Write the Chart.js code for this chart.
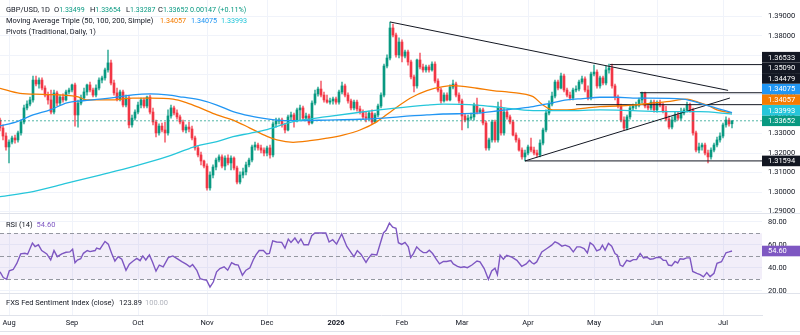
<!DOCTYPE html>
<html>
<head>
<meta charset="utf-8">
<script src="https://cdn.jsdelivr.net/npm/chart.js@4.4.1/dist/chart.umd.min.js"></script>
<style>
  body { margin: 0; background: #fff; width: 800px; height: 335px; overflow: hidden; position: relative; }
  canvas { position: absolute; left: 0; }
  #priceCanvas { top: 0; }
  #rsiCanvas { top: 214px; }
  #fxsCanvas { top: 294px; }
</style>
</head>
<body>
<canvas id="priceCanvas" width="800" height="214"></canvas>
<canvas id="rsiCanvas" width="800" height="80"></canvas>
<canvas id="fxsCanvas" width="800" height="41"></canvas>
<script>
// x positions are bar indexes (daily bars, weekdays only)
const monthTicks = [3, 24, 46, 69, 89, 112, 134, 154, 176, 198, 219, 241];
const monthLabels = ['Aug', 'Sep', 'Oct', 'Nov', 'Dec', '2026', 'Feb', 'Mar', 'Apr', 'May', 'Jun', 'Jul'];
const priceTicks = [1.29, 1.30, 1.31, 1.32, 1.33, 1.34, 1.35, 1.36, 1.37, 1.38, 1.39];
const rsiTicks = [20, 40, 60, 80];

// GBP/USD daily candles
const opens = [
  1.3369,1.3328,1.3287,1.3231,1.3256,1.3277,1.3267,1.3303,1.3359,1.3431,
  1.3451,1.3472,1.3574,1.3554,1.3574,1.3533,1.3497,1.3472,1.3410,1.3508,
  1.3456,1.3487,1.3472,1.3513,1.3523,1.3549,1.3395,1.3456,1.3482,1.3513,
  1.3549,1.3523,1.3497,1.3533,1.3574,1.3585,1.3626,1.3662,1.3559,1.3508,
  1.3477,1.3513,1.3446,1.3482,1.3344,1.3379,1.3410,1.3446,1.3472,1.3441,
  1.3487,1.3410,1.3359,1.3303,1.3338,1.3318,1.3303,1.3390,1.3431,1.3405,
  1.3385,1.3359,1.3318,1.3333,1.3323,1.3277,1.3226,1.3190,1.3159,1.3133,
  1.3021,1.3087,1.3128,1.3164,1.3180,1.3133,1.3174,1.3149,1.3174,1.3123,
  1.3051,1.3087,1.3103,1.3139,1.3164,1.3231,1.3241,1.3226,1.3215,1.3200,
  1.3226,1.3190,1.3349,1.3364,1.3369,1.3344,1.3318,1.3385,1.3395,1.3369,
  1.3421,1.3431,1.3379,1.3390,1.3354,1.3456,1.3503,1.3528,1.3497,1.3472,
  1.3461,1.3467,1.3477,1.3461,1.3513,1.3544,1.3497,1.3467,1.3431,1.3461,
  1.3426,1.3410,1.3385,1.3379,1.3405,1.3359,1.3395,1.3441,1.3497,1.3646,
  1.3687,1.3841,1.3805,1.3703,1.3769,1.3697,1.3718,1.3667,1.3590,1.3544,
  1.3677,1.3641,1.3626,1.3641,1.3626,1.3656,1.3569,1.3523,1.3467,1.3497,
  1.3472,1.3538,1.3554,1.3497,1.3467,1.3390,1.3369,1.3379,1.3385,1.3446,
  1.3410,1.3421,1.3354,1.3226,1.3267,1.3359,1.3267,1.3436,1.3303,1.3410,
  1.3385,1.3359,1.3292,1.3267,1.3215,1.3180,1.3200,1.3231,1.3215,1.3200,
  1.3190,1.3251,1.3318,1.3405,1.3451,1.3492,1.3564,1.3533,1.3595,1.3523,
  1.3497,1.3482,1.3523,1.3528,1.3564,1.3580,1.3523,1.3482,1.3605,1.3615,
  1.3544,1.3585,1.3559,1.3626,1.3636,1.3544,1.3487,1.3441,1.3369,1.3328,
  1.3385,1.3431,1.3441,1.3446,1.3472,1.3508,1.3441,1.3431,1.3461,1.3421,
  1.3456,1.3446,1.3415,1.3374,1.3333,1.3369,1.3395,1.3379,1.3405,1.3421,
  1.3446,1.3421,1.3303,1.3215,1.3231,1.3241,1.3200,1.3180,1.3215,1.3241,
  1.3267,1.3287,1.3344,1.3369,1.33499
];
const highs = [
  1.3379,1.3344,1.3303,1.3267,1.3287,1.3292,1.3313,1.3369,1.3446,1.3467,
  1.3487,1.3595,1.3595,1.3585,1.3585,1.3544,1.3513,1.3523,1.3523,1.3518,
  1.3497,1.3503,1.3523,1.3533,1.3554,1.3559,1.3472,1.3497,1.3533,1.3554,
  1.3564,1.3533,1.3549,1.3585,1.3595,1.3636,1.3728,1.3677,1.3574,1.3533,
  1.3523,1.3523,1.3497,1.3492,1.3395,1.3421,1.3461,1.3482,1.3482,1.3492,
  1.3497,1.3431,1.3369,1.3349,1.3354,1.3359,1.3421,1.3446,1.3441,1.3421,
  1.3395,1.3369,1.3344,1.3359,1.3338,1.3287,1.3236,1.3205,1.3164,1.3144,
  1.3103,1.3139,1.3174,1.3190,1.3190,1.3185,1.3190,1.3185,1.3180,1.3133,
  1.3103,1.3123,1.3154,1.3174,1.3241,1.3256,1.3251,1.3241,1.3226,1.3236,
  1.3241,1.3359,1.3379,1.3379,1.3379,1.3354,1.3395,1.3410,1.3405,1.3431,
  1.3446,1.3441,1.3405,1.3400,1.3467,1.3523,1.3538,1.3569,1.3513,1.3497,
  1.3482,1.3487,1.3487,1.3523,1.3564,1.3554,1.3508,1.3477,1.3472,1.3472,
  1.3441,1.3421,1.3410,1.3415,1.3421,1.3405,1.3451,1.3508,1.3656,1.3703,
  1.3872,1.3861,1.3815,1.3790,1.3780,1.3728,1.3728,1.3677,1.3600,1.3682,
  1.3713,1.3656,1.3651,1.3651,1.3667,1.3667,1.3580,1.3533,1.3508,1.3508,
  1.3549,1.3574,1.3564,1.3508,1.3477,1.3400,1.3395,1.3405,1.3456,1.3482,
  1.3431,1.3431,1.3364,1.3277,1.3369,1.3369,1.3461,1.3472,1.3431,1.3421,
  1.3395,1.3369,1.3303,1.3277,1.3226,1.3215,1.3241,1.3277,1.3231,1.3215,
  1.3267,1.3328,1.3421,1.3467,1.3513,1.3574,1.3574,1.3610,1.3605,1.3533,
  1.3513,1.3533,1.3544,1.3574,1.3595,1.3590,1.3544,1.3615,1.3651,1.3626,
  1.3595,1.3595,1.3646,1.3656,1.3656,1.3554,1.3497,1.3451,1.3385,1.3395,
  1.3441,1.3451,1.3461,1.3482,1.3513,1.3513,1.3451,1.3472,1.3472,1.3467,
  1.3472,1.3456,1.3441,1.3390,1.3385,1.3410,1.3410,1.3431,1.3431,1.3461,
  1.3456,1.3431,1.3313,1.3251,1.3251,1.3251,1.3215,1.3226,1.3251,1.3282,
  1.3303,1.3354,1.3385,1.3379,1.33654
];
const lows = [
  1.3313,1.3267,1.3215,1.3149,1.3246,1.3251,1.3256,1.3292,1.3349,1.3421,
  1.3441,1.3461,1.3544,1.3533,1.3523,1.3487,1.3451,1.3400,1.3400,1.3441,
  1.3446,1.3461,1.3467,1.3503,1.3513,1.3338,1.3333,1.3446,1.3472,1.3497,
  1.3513,1.3487,1.3487,1.3523,1.3559,1.3574,1.3615,1.3549,1.3497,1.3467,
  1.3467,1.3436,1.3436,1.3328,1.3333,1.3369,1.3400,1.3431,1.3431,1.3431,
  1.3400,1.3344,1.3282,1.3292,1.3308,1.3256,1.3292,1.3379,1.3395,1.3374,
  1.3349,1.3308,1.3303,1.3308,1.3267,1.3215,1.3180,1.3139,1.3123,1.3010,
  1.3010,1.3072,1.3113,1.3154,1.3123,1.3113,1.3139,1.3113,1.3113,1.3041,
  1.3041,1.3072,1.3087,1.3128,1.3154,1.3215,1.3215,1.3200,1.3185,1.3185,
  1.3174,1.3180,1.3333,1.3349,1.3333,1.3303,1.3313,1.3369,1.3333,1.3359,
  1.3369,1.3369,1.3369,1.3344,1.3349,1.3446,1.3492,1.3487,1.3461,1.3456,
  1.3451,1.3451,1.3451,1.3451,1.3503,1.3487,1.3456,1.3421,1.3421,1.3415,
  1.3400,1.3374,1.3359,1.3369,1.3349,1.3354,1.3385,1.3431,1.3487,1.3636,
  1.3677,1.3795,1.3692,1.3687,1.3667,1.3687,1.3651,1.3580,1.3513,1.3533,
  1.3631,1.3615,1.3615,1.3615,1.3620,1.3559,1.3513,1.3456,1.3461,1.3467,
  1.3467,1.3528,1.3487,1.3456,1.3318,1.3359,1.3328,1.3369,1.3369,1.3400,
  1.3405,1.3344,1.3215,1.3215,1.3256,1.3256,1.3256,1.3292,1.3292,1.3374,
  1.3349,1.3287,1.3256,1.3210,1.3169,1.3159,1.3190,1.3205,1.3190,1.3180,
  1.3180,1.3241,1.3308,1.3395,1.3441,1.3482,1.3523,1.3528,1.3513,1.3487,
  1.3472,1.3472,1.3513,1.3518,1.3554,1.3513,1.3472,1.3472,1.3595,1.3533,
  1.3533,1.3549,1.3549,1.3610,1.3533,1.3472,1.3431,1.3359,1.3318,1.3318,
  1.3374,1.3421,1.3426,1.3436,1.3456,1.3431,1.3421,1.3421,1.3410,1.3410,
  1.3436,1.3405,1.3364,1.3323,1.3323,1.3359,1.3369,1.3369,1.3395,1.3410,
  1.3410,1.3292,1.3205,1.3200,1.3215,1.3190,1.3149,1.3169,1.3205,1.3231,
  1.3256,1.3277,1.3333,1.3338,1.33287
];
const closes = [
  1.3328,1.3287,1.3231,1.3256,1.3277,1.3267,1.3303,1.3359,1.3431,1.3451,
  1.3472,1.3574,1.3554,1.3574,1.3533,1.3497,1.3472,1.3410,1.3508,1.3456,
  1.3487,1.3472,1.3513,1.3523,1.3549,1.3395,1.3456,1.3482,1.3513,1.3549,
  1.3523,1.3497,1.3533,1.3574,1.3585,1.3626,1.3662,1.3559,1.3508,1.3477,
  1.3513,1.3446,1.3482,1.3344,1.3379,1.3410,1.3446,1.3472,1.3441,1.3487,
  1.3410,1.3359,1.3303,1.3338,1.3318,1.3303,1.3390,1.3431,1.3405,1.3385,
  1.3359,1.3318,1.3333,1.3323,1.3277,1.3226,1.3190,1.3159,1.3133,1.3021,
  1.3087,1.3128,1.3164,1.3180,1.3133,1.3174,1.3149,1.3174,1.3123,1.3051,
  1.3087,1.3103,1.3139,1.3164,1.3231,1.3241,1.3226,1.3215,1.3200,1.3226,
  1.3190,1.3349,1.3364,1.3369,1.3344,1.3318,1.3385,1.3395,1.3369,1.3421,
  1.3431,1.3379,1.3390,1.3354,1.3456,1.3503,1.3528,1.3497,1.3472,1.3461,
  1.3467,1.3477,1.3461,1.3513,1.3544,1.3497,1.3467,1.3431,1.3461,1.3426,
  1.3410,1.3385,1.3379,1.3405,1.3359,1.3395,1.3441,1.3497,1.3646,1.3687,
  1.3841,1.3805,1.3703,1.3769,1.3697,1.3718,1.3667,1.3590,1.3544,1.3677,
  1.3641,1.3626,1.3641,1.3626,1.3656,1.3569,1.3523,1.3467,1.3497,1.3472,
  1.3538,1.3554,1.3497,1.3467,1.3390,1.3369,1.3379,1.3385,1.3446,1.3410,
  1.3421,1.3354,1.3226,1.3267,1.3359,1.3267,1.3436,1.3303,1.3410,1.3385,
  1.3359,1.3292,1.3267,1.3215,1.3180,1.3200,1.3231,1.3215,1.3200,1.3190,
  1.3251,1.3318,1.3405,1.3451,1.3492,1.3564,1.3533,1.3595,1.3523,1.3497,
  1.3482,1.3523,1.3528,1.3564,1.3580,1.3523,1.3482,1.3605,1.3615,1.3544,
  1.3585,1.3559,1.3626,1.3636,1.3544,1.3487,1.3441,1.3369,1.3328,1.3385,
  1.3431,1.3441,1.3446,1.3472,1.3508,1.3441,1.3431,1.3461,1.3421,1.3456,
  1.3446,1.3415,1.3374,1.3333,1.3369,1.3395,1.3379,1.3405,1.3421,1.3446,
  1.3421,1.3303,1.3215,1.3231,1.3241,1.3200,1.3180,1.3215,1.3241,1.3267,
  1.3287,1.3344,1.3369,1.3349,1.33652
];
const priceChange = 0.00147;
const pctChange = 0.11;

// moving averages (read at sample bars)
const ma50Idx = [0,6.7,14.3,25.7,29,36.7,44.3,50,57.7,62.3,66.7,72.3,77.7,83.3,89,92.3,97.7,103.3,109,114.3,120,125.7,131,136.7,142.3,147.7,151,159,164.3,169,173.3,177.7,181,184.3,189,194.3,200,205.7,211,216.7,222.3,229,232.3,235.7,239,244];
const ma50Val = [1.3532,1.3506,1.3501,1.3489,1.3472,1.3472,1.3481,1.3481,1.3476,1.3457,1.3431,1.3395,1.3369,1.3328,1.3285,1.3267,1.3255,1.3263,1.3276,1.3292,1.3318,1.3361,1.3421,1.3481,1.3520,1.3540,1.3545,1.3532,1.3520,1.3513,1.3506,1.3489,1.3446,1.3421,1.3421,1.3429,1.3438,1.3441,1.3446,1.3455,1.3463,1.3476,1.3463,1.3446,1.3421,1.34057];
const ma100Idx = [0,5.7,11,16.7,22.3,27.7,33.3,39,44.3,50,55.7,61,66.7,72.3,77.7,83.3,89,92.3,97.7,109,120,131,136.7,142.3,147.7,159,166.7,173.3,177.7,183.3,189,194.3,200,205.7,211,216.7,227.7,233.3,239,244];
const ma100Val = [1.3339,1.3361,1.3395,1.3421,1.3457,1.3468,1.3476,1.3486,1.3498,1.3503,1.3498,1.3486,1.3472,1.3446,1.3412,1.3390,1.3375,1.3369,1.3366,1.3369,1.3373,1.3383,1.3390,1.3395,1.3400,1.3404,1.3418,1.3429,1.3438,1.3455,1.3472,1.3479,1.3486,1.3486,1.3481,1.3481,1.3476,1.3455,1.3429,1.34075];
const ma200Idx = [0,11,22.3,33.3,44.3,55.7,63.3,66.7,72.3,77.7,83.3,89,97.7,109,120,131,142.3,147.7,159,166.7,177.7,189,200,211,222.3,233.3,244];
const ma200Val = [1.2976,1.3002,1.3045,1.3087,1.3130,1.3181,1.3224,1.3241,1.3258,1.3284,1.3301,1.3320,1.3361,1.3386,1.3409,1.3429,1.3446,1.3451,1.3446,1.3434,1.3417,1.3417,1.3421,1.3417,1.3412,1.3412,1.33993];

// drawn trend lines and levels
const upperTrendIdx = [130, 242.7];
const upperTrendVal = [1.3872, 1.3521];
const lowerTrendIdx = [175, 243.3];
const lowerTrendVal = [1.31594, 1.3482];
const levelVals = [1.36533, 1.35090, 1.34479, 1.31594];
const levelFrom = [203.3, 213.3, 192, 175];

// RSI (14)
const rsiIdx = [0,1.1,2.2,3.1,4.4,5.6,6.9,8.3,9.2,10.8,11.7,12.8,13.9,15.6,16.9,18,19.1,20.6,22,23.3,24.2,25,25.8,26.9,27.8,29.1,30,31.7,32.2,33.3,35,36.1,37.2,38.3,39.4,40.6,42,43.1,44.4,45.6,46.7,47.6,48.6,49.8,50.8,52,53.1,54.4,56.1,57.6,58.9,60.6,62.2,63.3,64.2,65.6,66.7,67.8,68.9,70,71.1,72.2,73.3,74.7,75.9,77.2,78.3,79.4,80.8,82,83.3,84.4,85.3,86.4,87.8,88.9,89.8,90.9,92.2,93.9,95,96.1,97,98.3,99.4,100.3,101.3,102.8,103.9,105,107.2,108.6,109.7,110.9,112.2,113.9,115.6,117.2,118,119.1,120.3,122,122.8,123.9,125.6,127.8,128.7,129.8,130.9,132,132.8,133.9,135,136.1,136.9,137.8,138.9,140,141.1,142.2,143.1,144.2,145.4,146.5,147.8,148.9,150.3,151.1,152.5,153.6,154.7,155.8,157.3,159,160,161.4,162.8,163.9,165,165.8,166.7,167.8,168.9,170.6,172.3,173.9,175.4,176.5,177.3,178,178.9,180.6,182.3,183.9,185,186.1,187.3,188.4,189.8,191.1,192.3,193.4,194.7,195.8,196.7,197.8,198.9,200,200.8,201.7,202.8,203.9,205,205.8,206.7,207.6,208.9,210,211.1,212.2,213.4,214.5,215.6,216.7,217.8,218.9,220,221.1,222,222.8,223.9,225,225.9,226.7,227.8,228.9,230,230.9,232.3,233.4,234.5,235.6,236.7,238,239,240.5,242,243,244];
const rsiVal = [36.5,31.5,30.0,37.4,38.5,43.8,52.1,52.6,51.8,61.5,58.5,60.0,55.0,52.1,46.8,55.0,49.7,52.1,53.5,53.8,56.2,44.4,46.8,47.9,52.6,55.0,54.1,55.0,57.1,56.2,62.9,60.6,52.6,45.9,49.7,47.4,37.9,43.2,45.9,48.2,46.2,50.3,46.8,51.2,45.3,37.1,42.4,40.9,48.8,50.3,48.2,45.3,42.9,40.9,42.9,37.9,30.6,29.7,29.1,23.2,27.6,36.5,39.4,40.9,37.9,44.4,42.9,42.4,33.5,37.9,40.0,46.8,51.2,55.0,55.0,52.1,52.6,63.5,62.4,62.1,57.1,65.0,62.1,65.9,61.5,65.0,60.0,60.0,67.9,70.3,70.3,70.3,62.4,64.4,60.6,69.4,58.5,52.6,49.7,55.0,51.8,44.7,48.2,51.8,51.2,70.3,72.6,78.8,75.3,74.4,61.8,60.3,62.1,58.2,49.0,52.4,58.2,55.3,53.2,53.2,55.3,52.4,47.5,43.4,45.5,45.5,46.3,43.4,41.3,40.3,40.9,40.1,42.4,45.9,45.1,39.3,30.0,37.2,39.7,34.1,50.9,47.5,50.9,49.2,46.5,41.3,43.4,46.5,44.4,43.4,45.1,53.8,56.8,59.7,62.6,61.2,58.8,59.7,58.2,53.8,58.2,58.2,56.8,52.9,61.8,59.7,54.7,55.9,59.7,55.3,61.2,58.8,52.4,50.9,42.4,41.3,46.5,45.5,47.1,47.1,52.4,48.6,49.2,47.5,47.9,49.0,49.2,46.5,46.5,42.4,41.8,45.5,44.2,47.9,47.5,48.6,48.6,36.8,35.2,34.1,32.1,35.8,32.3,35.2,43.9,45.3,53.1,53.8,54.6];
const rsiLevels = [70, 50, 30];

// FXS Fed Sentiment Index legend values
const fxsClose = 123.89;
const fxsBase = 100.00;

const UP = '#089981', DOWN = '#F23645';
const ORANGE = '#F57C00', BLUE = '#2196F3', CYAN = '#26C6DA', PURPLE = '#7E57C2';
const TEXT = '#131722';
const FONT = 'Roboto';
Chart.defaults.font.family = FONT;
Chart.defaults.font.size = 7.5;
Chart.defaults.color = TEXT;

const xScale = (showLabels) => ({
  type: 'linear', min: 0, max: 254, offset: false,
  grid: { color: '#f0f3fa', drawTicks: false, offset: false },
  border: { display: showLabels, color: '#e0e3eb' },
  ticks: {
    display: showLabels, autoSkip: false, maxRotation: 0, minRotation: 0, padding: 3.5,
    callback: v => monthLabels[monthTicks.indexOf(v)] || '',
    font: c => ({ family: FONT, size: 7.5, weight: c.tick && c.tick.label === '2026' ? 'bold' : 'normal' })
  },
  afterBuildTicks: s => { s.ticks = monthTicks.map(v => ({ value: v })); },
  afterFit: s => { s.height = showLabels ? 20 : 0; s.paddingLeft = 0; s.paddingRight = 0; }
});

const rightAxis = (min, max, ticks, digits) => ({
  position: 'right', min, max,
  grid: { color: '#f0f3fa', drawTicks: false },
  border: { display: false },
  ticks: { padding: 6, color: TEXT, callback: v => v.toFixed(digits) },
  afterBuildTicks: s => { s.ticks = ticks.map(v => ({ value: v })); },
  afterFit: s => { s.width = 38; s.paddingTop = 0; s.paddingBottom = 0; }
});

function lineSet(xs, ys, color, width, extra) {
  return Object.assign({
    type: 'line', data: xs.map((x, i) => ({ x, y: ys[i] })),
    borderColor: color, borderWidth: width, pointRadius: 0, tension: 0, order: 1
  }, extra || {});
}

function text(ctx, str, x, y, color, size) {
  ctx.font = (size || 7.5) + 'px ' + FONT;
  ctx.fillStyle = color;
  ctx.fillText(str, x, y);
  return x + ctx.measureText(str).width;
}

// ---------------- price pane
const candleColor = (i, a) => (closes[i] >= opens[i] ? (a ? 'rgba(8,153,129,0.75)' : UP) : (a ? 'rgba(242,54,69,0.75)' : DOWN));

const pricePlugin = {
  id: 'pricePlugin',
  afterDraw(chart) {
    const { ctx, chartArea, scales } = chart;
    const last = closes.length - 1;
    ctx.save();
    ctx.textBaseline = 'middle';
    ctx.textAlign = 'left';
    // legend
    text(ctx, 'GBP/USD, 1D', 6, 10, TEXT);
    [['O', opens[last], 54], ['H', highs[last], 90], ['L', lows[last], 126], ['C', closes[last], 158]].forEach(([k, v, x]) => {
      const nx = text(ctx, k, x, 10, TEXT);
      text(ctx, v.toFixed(5), nx, 10, UP, 7);
    });
    text(ctx, priceChange.toFixed(5) + ' (+' + pctChange.toFixed(2) + '%)', 190, 10, UP, 7.2);
    text(ctx, 'Moving Average Triple (50, 100, 200, Simple)', 6, 21.5, TEXT);
    text(ctx, ma50Val[ma50Val.length - 1].toFixed(5), 160, 21.5, ORANGE, 7.2);
    text(ctx, ma100Val[ma100Val.length - 1].toFixed(5), 191, 21.5, BLUE, 7.2);
    text(ctx, ma200Val[ma200Val.length - 1].toFixed(5), 221, 21.5, CYAN, 7.2);
    text(ctx, 'Pivots (Traditional, Daily, 1)', 6, 32.5, TEXT);

    // price tags on the axis, stacked upwards from the bottom
    const y = scales.y;
    const tags = [
      ...levelVals.map(v => ({ v, bg: TEXT })),
      { v: ma100Val[ma100Val.length - 1], bg: BLUE },
      { v: ma50Val[ma50Val.length - 1], bg: ORANGE },
      { v: ma200Val[ma200Val.length - 1], bg: CYAN },
      { v: closes[last], bg: UP }
    ].map(t => Object.assign(t, { py: y.getPixelForValue(t.v) })).sort((a, b) => b.py - a.py);
    let prev = Infinity;
    tags.forEach(t => {
      t.py = Math.min(t.py, prev - 10.6);
      prev = t.py;
      ctx.fillStyle = t.bg;
      ctx.fillRect(chartArea.right, t.py - 5.3, 38, 10.6);
      text(ctx, t.v.toFixed(5), chartArea.right + 6, t.py + 0.5, '#ffffff');
    });

    ctx.strokeStyle = '#e0e3eb';
    ctx.lineWidth = 1;
    ctx.beginPath();
    ctx.moveTo(0, chart.height - 0.5);
    ctx.lineTo(chart.width, chart.height - 0.5);
    ctx.stroke();
    ctx.restore();
  }
};

const priceDatasets = [
  {
    type: 'bar', grouped: false, order: 10, barThickness: 1,
    data: highs.map((h, i) => ({ x: i, y: [lows[i], h] })),
    backgroundColor: highs.map((h, i) => candleColor(i, true))
  },
  {
    type: 'bar', grouped: false, order: 9, barThickness: 2, minBarLength: 1,
    data: opens.map((o, i) => ({ x: i, y: [o, closes[i]] })),
    backgroundColor: opens.map((o, i) => candleColor(i, false))
  },
  lineSet([0, 254], [closes[closes.length - 1], closes[closes.length - 1]], 'rgba(8,153,129,0.7)', 1, { borderDash: [2, 2], order: 8 }),
  lineSet(ma200Idx, ma200Val, CYAN, 1.3, { cubicInterpolationMode: 'monotone' }),
  lineSet(ma100Idx, ma100Val, BLUE, 1.3, { cubicInterpolationMode: 'monotone' }),
  lineSet(ma50Idx, ma50Val, ORANGE, 1.3, { cubicInterpolationMode: 'monotone' }),
  lineSet(upperTrendIdx, upperTrendVal, TEXT, 1),
  lineSet(lowerTrendIdx, lowerTrendVal, TEXT, 1),
  ...levelVals.map((v, k) => lineSet([levelFrom[k], 254], [v, v], TEXT, 1))
];

new Chart(document.getElementById('priceCanvas'), {
  type: 'bar',
  data: { datasets: priceDatasets },
  options: {
    responsive: false, animation: false, events: [],
    layout: { padding: 0 },
    plugins: { legend: { display: false }, tooltip: { enabled: false } },
    scales: { x: xScale(false), y: rightAxis(1.28872, 1.39846, priceTicks, 5) }
  },
  plugins: [pricePlugin]
});

// ---------------- RSI pane
const rsiPlugin = {
  id: 'rsiPlugin',
  beforeDatasetsDraw(chart) {
    const { ctx, chartArea, scales } = chart;
    const y = scales.y;
    ctx.save();
    ctx.fillStyle = 'rgba(126,87,194,0.1)';
    const top = y.getPixelForValue(rsiLevels[0]);
    const bot = y.getPixelForValue(rsiLevels[2]);
    ctx.fillRect(chartArea.left, top, chartArea.right - chartArea.left, bot - top);
    ctx.strokeStyle = '#9598a1';
    ctx.lineWidth = 1;
    ctx.setLineDash([4, 3]);
    rsiLevels.forEach(l => {
      const py = Math.round(y.getPixelForValue(l)) + 0.5;
      ctx.beginPath();
      ctx.moveTo(chartArea.left, py);
      ctx.lineTo(chartArea.right, py);
      ctx.stroke();
    });
    ctx.restore();
  },
  afterDraw(chart) {
    const { ctx, chartArea, scales } = chart;
    const last = rsiVal[rsiVal.length - 1];
    ctx.save();
    ctx.textBaseline = 'middle';
    const nx = text(ctx, 'RSI (14)', 6, 11, TEXT);
    text(ctx, last.toFixed(2), nx + 4, 11, PURPLE);
    const py = scales.y.getPixelForValue(last);
    ctx.fillStyle = PURPLE;
    ctx.fillRect(chartArea.right, py - 5.3, 38, 10.6);
    text(ctx, last.toFixed(2), chartArea.right + 6, py + 0.5, '#ffffff');
    ctx.strokeStyle = '#e0e3eb';
    ctx.beginPath();
    ctx.moveTo(0, chart.height - 0.5);
    ctx.lineTo(chart.width, chart.height - 0.5);
    ctx.stroke();
    ctx.restore();
  }
};

new Chart(document.getElementById('rsiCanvas'), {
  type: 'line',
  data: { datasets: [lineSet(rsiIdx, rsiVal, PURPLE, 1.4)] },
  options: {
    responsive: false, animation: false, events: [],
    layout: { padding: 0 },
    plugins: { legend: { display: false }, tooltip: { enabled: false } },
    scales: { x: xScale(false), y: rightAxis(17.22, 86.78, rsiTicks, 2) }
  },
  plugins: [rsiPlugin]
});

// ---------------- FXS pane + time axis
const fxsPlugin = {
  id: 'fxsPlugin',
  afterDraw(chart) {
    const { ctx } = chart;
    ctx.save();
    ctx.textBaseline = 'middle';
    text(ctx, 'FXS Fed Sentiment Index (close)', 6, 9, TEXT);
    text(ctx, fxsClose.toFixed(2), 119, 9, TEXT);
    text(ctx, fxsBase.toFixed(2), 145, 9, '#b2b5be');
    ctx.strokeStyle = '#e0e3eb';
    ctx.beginPath();
    ctx.moveTo(0, 37.5);
    ctx.lineTo(chart.width, 37.5);
    ctx.stroke();
    ctx.restore();
  }
};

new Chart(document.getElementById('fxsCanvas'), {
  type: 'line',
  data: { datasets: [] },
  options: {
    responsive: false, animation: false, events: [],
    layout: { padding: 0 },
    plugins: { legend: { display: false }, tooltip: { enabled: false } },
    scales: {
      x: xScale(true),
      y: {
        position: 'right', min: 0, max: 1,
        grid: { display: false }, border: { display: false }, ticks: { display: false },
        afterFit: s => { s.width = 38; s.paddingTop = 0; s.paddingBottom = 0; }
      }
    }
  },
  plugins: [fxsPlugin]
});
</script>
</body>
</html>
